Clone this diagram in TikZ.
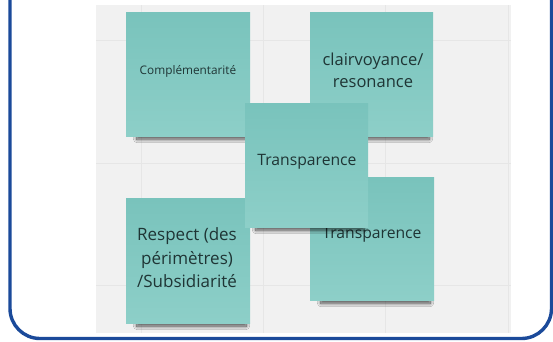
\documentclass[tikz,border=0pt]{standalone}
\usepackage{fontspec}
\setmainfont{Open Sans}
\usetikzlibrary{shadows.blur}
\definecolor{frameblue}{HTML}{1B4A9A}
\definecolor{bggray}{HTML}{F1F1F1}
\definecolor{gridgray}{HTML}{E6E6E6}
\definecolor{noteTop}{HTML}{79C3BC}
\definecolor{noteBot}{HTML}{8DCFC8}
\definecolor{inkcol}{HTML}{1F3535}
\tikzset{
  note/.style={rectangle, inner sep=0pt, top color=noteTop, bottom color=noteBot,
    blur shadow={shadow xshift=4pt, shadow yshift=-12pt, shadow scale=0.88,
      shadow opacity=70, shadow blur radius=4pt, shadow blur steps=14}},
  txt/.style={text=inkcol, align=center, inner sep=0pt},
  gridline/.style={draw=gridgray, line width=0.8pt},
  frame/.style={draw=frameblue, line width=3.4pt, rounded corners=30pt}
}
\begin{document}
\begin{tikzpicture}[x=1pt,y=-1pt]
\useasboundingbox[fill=white] (0,0) rectangle (553,341);
% screenshot background
\fill[bggray] (96,5) rectangle (511,333);
\foreach \gx in {141,263,385,508} \draw[gridline] (\gx,5) -- (\gx,333);
\foreach \gy in {40,163,285} \draw[gridline] (96,\gy) -- (511,\gy);
% notes
\node[note, minimum width=124pt, minimum height=124pt] (n1) at (188,74) {};
\node[txt, font=\fontsize{11.8}{15}\selectfont] (t1) at (188,71) {Complémentarité};
\node[note, minimum width=123pt, minimum height=124pt] (n2) at (371.5,74) {};
\node[txt, font=\fontsize{16.5}{22}\selectfont] (t2) at (373,70) {clairvoyance/\\resonance};
\node[note, minimum width=124pt, minimum height=125pt] (n5) at (188,260.5) {};
\node[txt, font=\fontsize{17}{23.5}\selectfont] (t5) at (187,258) {Respect (des\\périmètres)\\/Subsidiarité};
\node[note, minimum width=124pt, minimum height=123pt] (n4) at (372,238.5) {};
\node[txt, font=\fontsize{15.7}{20}\selectfont] (t4) at (372,235) {Transparence};
\node[note, minimum width=123pt, minimum height=124pt] (n3) at (306.5,165) {};
\node[txt, font=\fontsize{15.7}{20}\selectfont] (t3) at (307,162) {Transparence};
% frame
\draw[frame] (10,-10) -- (10,338.5) -- (551.5,338.5) -- (551.5,-10);
\end{tikzpicture}
\end{document}
